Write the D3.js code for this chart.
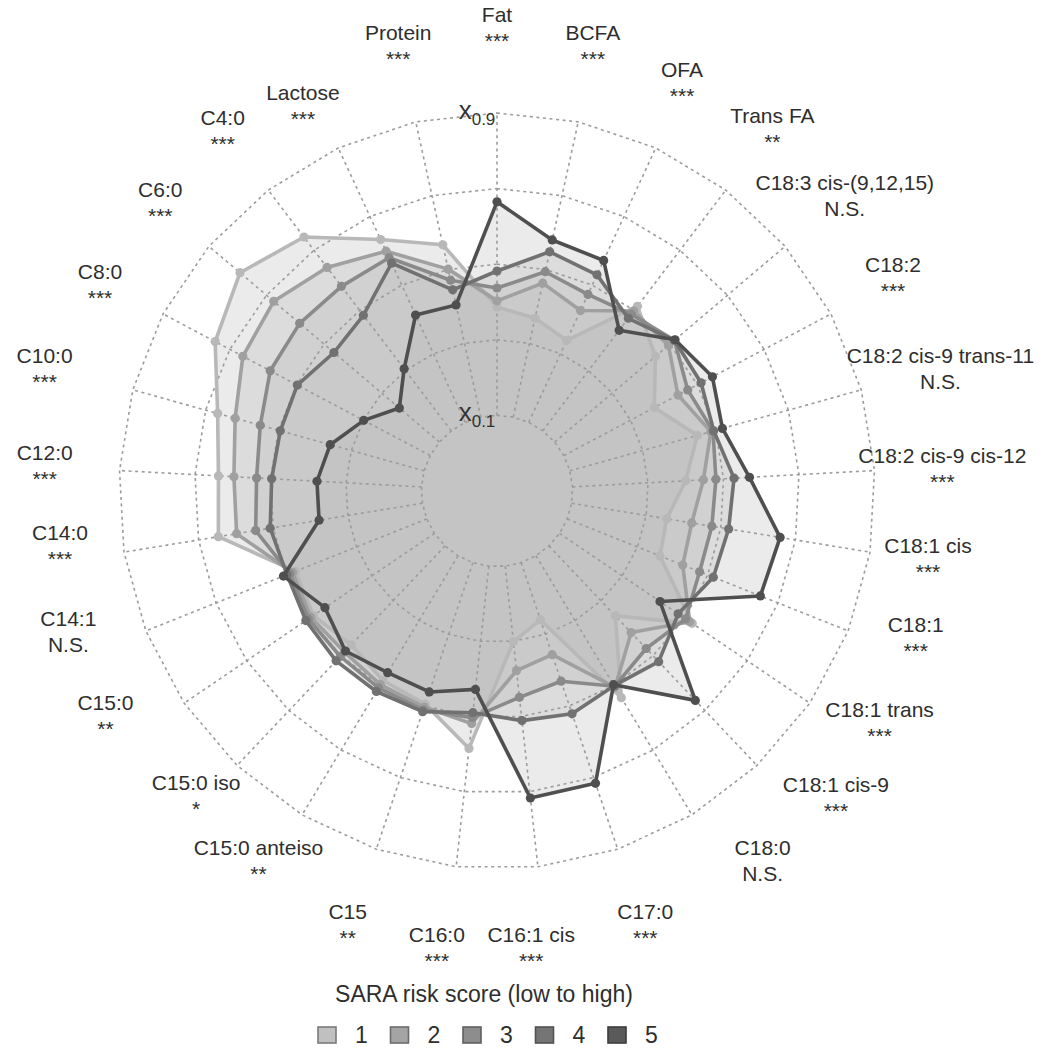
<!DOCTYPE html>
<html>
<head>
<meta charset="utf-8">
<script src="https://cdn.jsdelivr.net/npm/d3@7"></script>
<style>
  html, body { margin: 0; padding: 0; background: #ffffff; }
  svg { display: block; }
  text { font-family: "Liberation Sans", Arial, Helvetica, sans-serif; fill: #2e2e2e; }
</style>
</head>
<body>
<svg id="chart" width="1044" height="1048"></svg>
<script>
// Milk components, clockwise from the top
const categories = [
  "Fat", "BCFA", "OFA", "Trans FA", "C18:3 cis-(9,12,15)", "C18:2",
  "C18:2 cis-9 trans-11", "C18:2 cis-9 cis-12", "C18:1 cis", "C18:1",
  "C18:1 trans", "C18:1 cis-9", "C18:0", "C17:0", "C16:1 cis", "C16:0",
  "C15", "C15:0 anteiso", "C15:0 iso", "C15:0", "C14:1", "C14:0",
  "C12:0", "C10:0", "C8:0", "C6:0", "C4:0", "Lactose", "Protein"
];
const significance = [
  "***", "***", "***", "**", "N.S.", "***",
  "N.S.", "***", "***", "***",
  "***", "***", "N.S.", "***", "***", "***",
  "**", "**", "*", "**", "N.S.", "***",
  "***", "***", "***", "***", "***", "***", "***"
];

// SARA risk score groups (low to high)
const seriesNames = ["1", "2", "3", "4", "5"];
const score1 = [0.387, 0.368, 0.339, 0.514, 0.450, 0.371, 0.450, 0.400, 0.355, 0.364, 0.524, 0.355, 0.538, 0.260, 0.301, 0.585, 0.495, 0.485, 0.461, 0.487, 0.474, 0.647, 0.638, 0.667, 0.744, 0.792, 0.744, 0.633, 0.567];
const score2 = [0.403, 0.463, 0.426, 0.498, 0.495, 0.442, 0.487, 0.447, 0.422, 0.429, 0.516, 0.416, 0.506, 0.357, 0.378, 0.519, 0.503, 0.498, 0.487, 0.495, 0.482, 0.598, 0.597, 0.619, 0.661, 0.675, 0.643, 0.599, 0.501];
const score3 = [0.437, 0.494, 0.473, 0.487, 0.516, 0.471, 0.493, 0.480, 0.476, 0.477, 0.503, 0.474, 0.503, 0.431, 0.449, 0.503, 0.511, 0.508, 0.503, 0.503, 0.490, 0.547, 0.537, 0.550, 0.579, 0.585, 0.580, 0.580, 0.471];
const score4 = [0.482, 0.548, 0.530, 0.474, 0.516, 0.511, 0.495, 0.528, 0.521, 0.516, 0.479, 0.522, 0.501, 0.522, 0.511, 0.490, 0.516, 0.519, 0.519, 0.511, 0.498, 0.508, 0.497, 0.495, 0.498, 0.466, 0.484, 0.564, 0.445];
const score5 = [0.665, 0.580, 0.572, 0.434, 0.518, 0.545, 0.519, 0.569, 0.659, 0.650, 0.421, 0.663, 0.498, 0.716, 0.717, 0.428, 0.461, 0.461, 0.483, 0.450, 0.508, 0.377, 0.377, 0.358, 0.299, 0.239, 0.306, 0.413, 0.404];

// Grid levels (quantiles) and the ones that carry a label
const ringTicks = [0.1, 0.3, 0.5, 0.7, 0.9];
const labeledTicks = [0.1, 0.9];

const legendTitle = "SARA risk score (low to high)";

// ---- layout & styles ----
const series = [score1, score2, score3, score4, score5];
const lineColors  = ["#b8b8b8", "#a0a0a0", "#8a8a8a", "#717171", "#4f4f4f"];
const boxColors   = ["#c0c0c0", "#a4a4a4", "#8d8d8d", "#757575", "#5a5a5a"];
const boxBorders  = ["#7a7a7a", "#6c6c6c", "#606060", "#525252", "#3c3c3c"];

const cx = 497, cy = 491, R = 378;
const labelR = 455;
// hand-tuned offsets [dx, dy] so the two-line labels clear each other
const labelShift = [
  [0, -8], [-2, -1], [-6, 5], [0, 0], [1, 0], [-6, 0], [5, 0], [-9, 3],
  [-18, -6], [-4, -21], [6, -23], [26, -23], [31, -20], [3, 3], [-15, 5],
  [-11, 5], [-4, 3], [-4, -20], [12, -25], [-15, -30], [-6, -27], [12, -19],
  [2, 0], [-14, 0], [5, 7], [10, 7], [1, 2], [-3, 28], [-1, -1]
];
const n = categories.length;
const step = 2 * Math.PI / n;

const svg = d3.select("#chart");
const g = svg.append("g").attr("transform", `translate(${cx},${cy})`);

const rScale = d3.scaleLinear().domain([0.1, 0.9]).range([R / 5, R]);
const angleOf = i => i * step;

const radarLine = d3.lineRadial()
  .angle((d, i) => angleOf(i))
  .radius(d => rScale(d))
  .curve(d3.curveLinearClosed);

// filled areas (drawn first, all the same translucent gray)
const fills = g.append("g");
series.forEach(vals => {
  fills.append("path")
    .attr("d", radarLine(vals))
    .attr("fill", "#b6b6b6")
    .attr("fill-opacity", 0.28)
    .attr("stroke", "none");
});

// dashed web: rings and spokes
const grid = g.append("g")
  .attr("fill", "none")
  .attr("stroke", "#9c9c9c")
  .attr("stroke-width", 1.6)
  .attr("stroke-dasharray", "3,3.6");

ringTicks.forEach(t => {
  grid.append("path").attr("d", radarLine(categories.map(() => t)));
});
categories.forEach((c, i) => {
  const p0 = d3.pointRadial(angleOf(i), rScale(ringTicks[0]));
  const p1 = d3.pointRadial(angleOf(i), rScale(ringTicks[ringTicks.length - 1]));
  grid.append("line")
    .attr("x1", p0[0]).attr("y1", p0[1])
    .attr("x2", p1[0]).attr("y2", p1[1]);
});

// series outlines and vertices
series.forEach((vals, s) => {
  const sg = g.append("g");
  sg.append("path")
    .attr("d", radarLine(vals))
    .attr("fill", "none")
    .attr("stroke", lineColors[s])
    .attr("stroke-width", 3.6)
    .attr("stroke-linejoin", "round");
  sg.selectAll("circle")
    .data(vals)
    .join("circle")
    .attr("cx", (d, i) => d3.pointRadial(angleOf(i), rScale(d))[0])
    .attr("cy", (d, i) => d3.pointRadial(angleOf(i), rScale(d))[1])
    .attr("r", 4.6)
    .attr("fill", lineColors[s]);
});

// quantile labels on the web
labeledTicks.forEach(t => {
  const y = -rScale(t);
  const txt = g.append("text")
    .attr("x", -20)
    .attr("y", y + 6)
    .attr("text-anchor", "middle")
    .style("fill", "#333");
  txt.append("tspan").attr("font-size", "26px").text("x");
  txt.append("tspan").attr("font-size", "17px").attr("dy", 6).text(String(t));
});

// category labels with significance
categories.forEach((c, i) => {
  const p = d3.pointRadial(angleOf(i), labelR);
  const x = p[0] + labelShift[i][0];
  const y = p[1] + labelShift[i][1];
  const t = g.append("text")
    .attr("text-anchor", "middle")
    .attr("font-size", "21px");
  t.append("tspan").attr("x", x).attr("y", y - 6).text(c);
  t.append("tspan").attr("x", x).attr("y", y + 20).text(significance[i]);
});

// legend
svg.append("text")
  .attr("x", 484)
  .attr("y", 1002)
  .attr("text-anchor", "middle")
  .attr("font-size", "23px")
  .text(legendTitle);

const legendX = d3.scalePoint().domain(seriesNames).range([318, 608]);
const legend = svg.append("g");
seriesNames.forEach((name, s) => {
  const x = legendX(name);
  legend.append("rect")
    .attr("x", x).attr("y", 1027)
    .attr("width", 18).attr("height", 16)
    .attr("fill", boxColors[s])
    .attr("stroke", boxBorders[s])
    .attr("stroke-width", 1.6);
  legend.append("text")
    .attr("x", x + 37).attr("y", 1043)
    .attr("font-size", "23px")
    .text(name);
});
</script>
</body>
</html>
